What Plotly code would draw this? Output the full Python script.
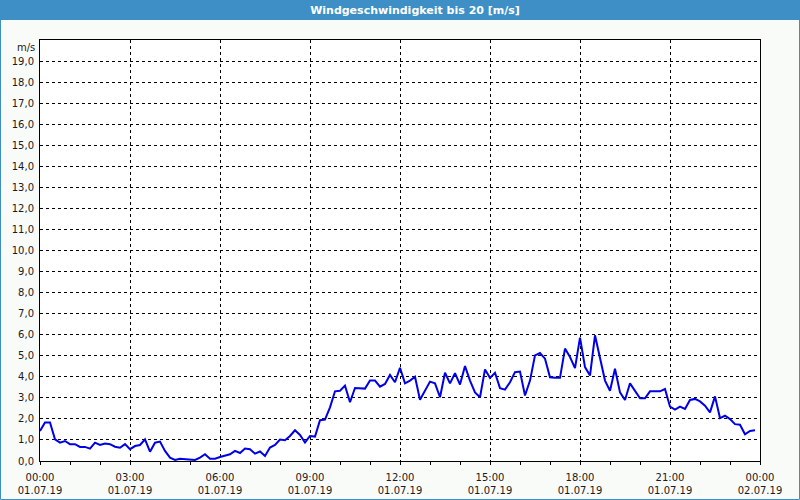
import plotly.graph_objects as go
import pandas as pd

# Wind speed samples every 10 minutes, 01.07.19 00:00 .. 23:50
start_time = "2019-07-01 00:00"
interval = "10min"
wind_speed = [
    # 00:00 - 06:00
    1.43, 1.83, 1.83, 1.03, 0.87, 0.95, 0.80, 0.80, 0.67, 0.67, 0.59, 0.87,
    0.76, 0.83, 0.80, 0.68, 0.63, 0.80, 0.56, 0.71, 0.76, 1.03, 0.44, 0.87,
    0.92, 0.48, 0.16, 0.05, 0.11, 0.08, 0.05, 0.05, 0.16, 0.32, 0.11, 0.11,
    0.19,
    # 06:10 - 12:00
    0.24, 0.32, 0.48, 0.38, 0.59, 0.56, 0.35, 0.45, 0.24, 0.64, 0.76, 1.02,
    0.99, 1.19, 1.46, 1.24, 0.88, 1.19, 1.16, 1.94, 1.97, 2.55, 3.31, 3.34,
    3.58, 2.79, 3.47, 3.47, 3.44, 3.82, 3.82, 3.53, 3.66, 4.09, 3.74, 4.43,
    # 12:10 - 18:00
    3.69, 3.82, 4.00, 2.91, 3.34, 3.77, 3.69, 3.03, 4.19, 3.69, 4.17, 3.63,
    4.51, 3.82, 3.26, 3.03, 4.35, 3.95, 4.19, 3.46, 3.39, 3.74, 4.22, 4.25,
    3.11, 3.82, 5.02, 5.13, 4.86, 3.98, 3.95, 3.95, 5.34, 4.94, 4.41, 5.86,
    # 18:10 - 23:50
    4.46, 4.06, 5.97, 4.94, 3.82, 3.34, 4.38, 3.26, 2.90, 3.69, 3.34, 2.98,
    2.98, 3.31, 3.31, 3.31, 3.42, 2.58, 2.44, 2.58, 2.47, 2.90, 2.95, 2.83,
    2.63, 2.31, 3.07, 2.04, 2.15, 1.99, 1.75, 1.72, 1.27, 1.43, 1.46,
]
times = pd.date_range(start_time, periods=len(wind_speed), freq=interval)

x_tick_vals = ["2019-07-01 00:00", "2019-07-01 03:00", "2019-07-01 06:00",
               "2019-07-01 09:00", "2019-07-01 12:00", "2019-07-01 15:00",
               "2019-07-01 18:00", "2019-07-01 21:00", "2019-07-02 00:00"]
x_tick_text = ["00:00<br>01.07.19", "03:00<br>01.07.19", "06:00<br>01.07.19",
               "09:00<br>01.07.19", "12:00<br>01.07.19", "15:00<br>01.07.19",
               "18:00<br>01.07.19", "21:00<br>01.07.19", "00:00<br>02.07.19"]
y_tick_vals = list(range(0, 20))
y_tick_text = [f"{v},0" for v in y_tick_vals]

title_text = "Windgeschwindigkeit bis 20 [m/s]"
unit_text = "m/s"

W, H = 800, 500
L, R, T, B = 40, 40, 40, 39
pw, ph = W - L - R, H - T - B

def px_x(p):
    return (p - L) / pw

def px_y(p):
    return (H - B - p) / ph

font = "DejaVu Sans"

fig = go.Figure()
fig.add_trace(go.Scatter(
    x=times, y=wind_speed, mode="lines",
    line=dict(color="#0000e6", width=2),
    hoverinfo="skip", showlegend=False,
))

grid = dict(showgrid=True, gridcolor="black", gridwidth=1, griddash="3px,3px")

fig.update_layout(
    width=W, height=H,
    margin=dict(l=L, r=R, t=T, b=B, autoexpand=False),
    paper_bgcolor="#f9fbf9",
    plot_bgcolor="white",
    font=dict(family=font, size=10, color="#1a1a1a"),
    title=dict(text=f"<b>{title_text}</b>", x=415 / W, xref="container", xanchor="center",
               y=1 - 10 / H, yref="container", yanchor="middle",
               font=dict(family=font, size=11, color="white")),
    xaxis=dict(
        type="date", automargin=False,
        range=["2019-07-01 00:00", "2019-07-02 00:00"],
        tickmode="array", tickvals=x_tick_vals, ticktext=x_tick_text,
        ticks="outside", ticklen=3, tickcolor="black",
        showline=True, linecolor="black", linewidth=1, mirror=True,
        minor=dict(tickmode="linear", tick0="2019-07-01 00:00", dtick=3600000,
                   ticks="outside", ticklen=3, tickcolor="black", showgrid=False),
        zeroline=False, fixedrange=True, ticklabelstandoff=4,
        **grid,
    ),
    yaxis=dict(
        range=[0, 20], automargin=False,
        tickmode="array", tickvals=y_tick_vals, ticktext=y_tick_text,
        ticks="", showline=True, linecolor="black", linewidth=1, mirror=True,
        zeroline=False, fixedrange=True, ticklabelstandoff=3,
        **grid,
    ),
    shapes=[
        dict(type="rect", xref="paper", yref="paper",
             x0=px_x(0), x1=px_x(W), y0=px_y(20), y1=px_y(0),
             fillcolor="#3d8fc6", line=dict(width=0), layer="below"),
        dict(type="rect", xref="paper", yref="paper",
             x0=px_x(0.5), x1=px_x(W - 0.5), y0=px_y(H - 0.5), y1=px_y(0.5),
             fillcolor="rgba(0,0,0,0)", line=dict(color="#3d8fc6", width=1)),
    ],
    annotations=[
        dict(text=unit_text, xref="paper", yref="paper", x=px_x(37), y=px_y(47),
             xanchor="right", yanchor="middle", showarrow=False,
             font=dict(family=font, size=10, color="#1a1a1a")),
    ],
)

fig.write_html("out.html")
